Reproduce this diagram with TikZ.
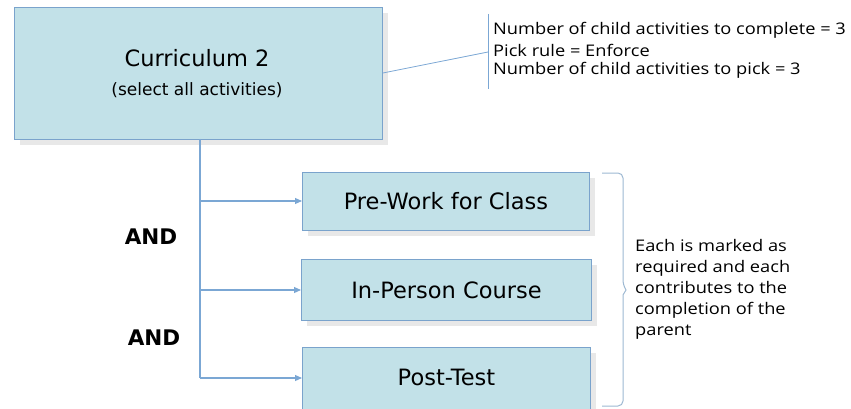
\documentclass[tikz,border=0pt]{standalone}
\usepackage{fontspec}
\setmainfont{DejaVu Sans}
\newfontfamily\notefont[FakeStretch=1.14]{Open Sans}
\usetikzlibrary{arrows.meta,shadows}
\definecolor{boxfill}{HTML}{C2E1E8}
\definecolor{boxline}{HTML}{7AA3CC}
\definecolor{linkblue}{HTML}{7BA7D4}
\definecolor{bracecol}{HTML}{9DB8D2}
\definecolor{shadowgray}{HTML}{E8E8E8}
\tikzset{
  activity/.style={draw=boxline, fill=boxfill, line width=0.9pt,
    inner sep=0pt, anchor=north west,
    general shadow={fill=shadowgray, shadow xshift=6pt, shadow yshift=-6pt}},
  boxtext/.style={font=\fontsize{22.5}{26}\selectfont, inner sep=0pt},
  link/.style={draw=linkblue, line width=1.1pt},
  linkarrow/.style={link, -{Triangle[length=7pt,width=6pt]}},
  notetext/.style={font=\notefont\fontsize{16}{19.5}\selectfont, align=left, anchor=west, inner sep=0pt},
  andlabel/.style={font=\bfseries\fontsize{21.5}{24}\selectfont, inner sep=0pt},
}
\begin{document}
\begin{tikzpicture}[x=1pt,y=-1pt]
\useasboundingbox (0,0) rectangle (851,409);
\begin{scope}
\clip (0,0) rectangle (851,409);

% parent activity
\node[activity, minimum width=368pt, minimum height=132pt] (cur) at (14,7) {};
\node[boxtext] (curT) at (197,58) {Curriculum 2};
\node[font=\fontsize{17}{20}\selectfont, inner sep=0pt] (curS) at (197,90) {(select all activities)};

% child activities
\node[activity, minimum width=287pt, minimum height=58pt] (pre) at (302,172) {};
\node[boxtext] at (pre.center) {Pre-Work for Class};
\node[activity, minimum width=290pt, minimum height=61pt] (inp) at (301,259) {};
\node[boxtext] at (inp.center) {In-Person Course};
\node[activity, minimum width=288pt, minimum height=70pt] (post) at (302,347) {};
\node[boxtext] at (post.center |- 0,377) {Post-Test};
\end{scope}

% tree connectors
\coordinate (trunk) at (200,139);
\coordinate (j1) at (200,201);
\coordinate (j2) at (200,290);
\coordinate (j3) at (200,378);
\draw[link] (trunk) -- (j3);
\draw[linkarrow] (j1) -- (j1 -| pre.west);
\draw[linkarrow] (j2) -- (j2 -| inp.west);
\draw[linkarrow] (j3) -- (j3 -| post.west);

\node[andlabel] (and1) at (151,237) {AND};
\node[andlabel] (and2) at (154,338) {AND};

% settings callout
\coordinate (bar top) at (488,14);
\coordinate (bar bot) at (488,89);
\coordinate (bar mid) at (488,52);
\draw[link, line width=0.8pt] (bar top) -- (bar bot);
\draw[link, line width=0.8pt] (cur.east |- 0,73) -- (bar mid);
\node[notetext] (set1) at (493,30) {Number of child activities to complete = 3};
\node[notetext] (set2) at (493,50) {Pick rule = Enforce};
\node[notetext] (set3) at (493,70) {Number of child activities to pick = 3};

% brace around the children
\draw[bracecol, line width=1pt, rounded corners=5pt]
  (602,173) -- (623,173) -- (623,285) [sharp corners] -- (626,290) -- (623,295)
  [rounded corners=5pt] -- (623,406) -- (602,406);

\node[notetext, font=\notefont\fontsize{16}{21}\selectfont, anchor=north west] (note) at (635,239)
  {Each is marked as\\required and each\\contributes to the\\completion of the\\parent};
\end{tikzpicture}
\end{document}
